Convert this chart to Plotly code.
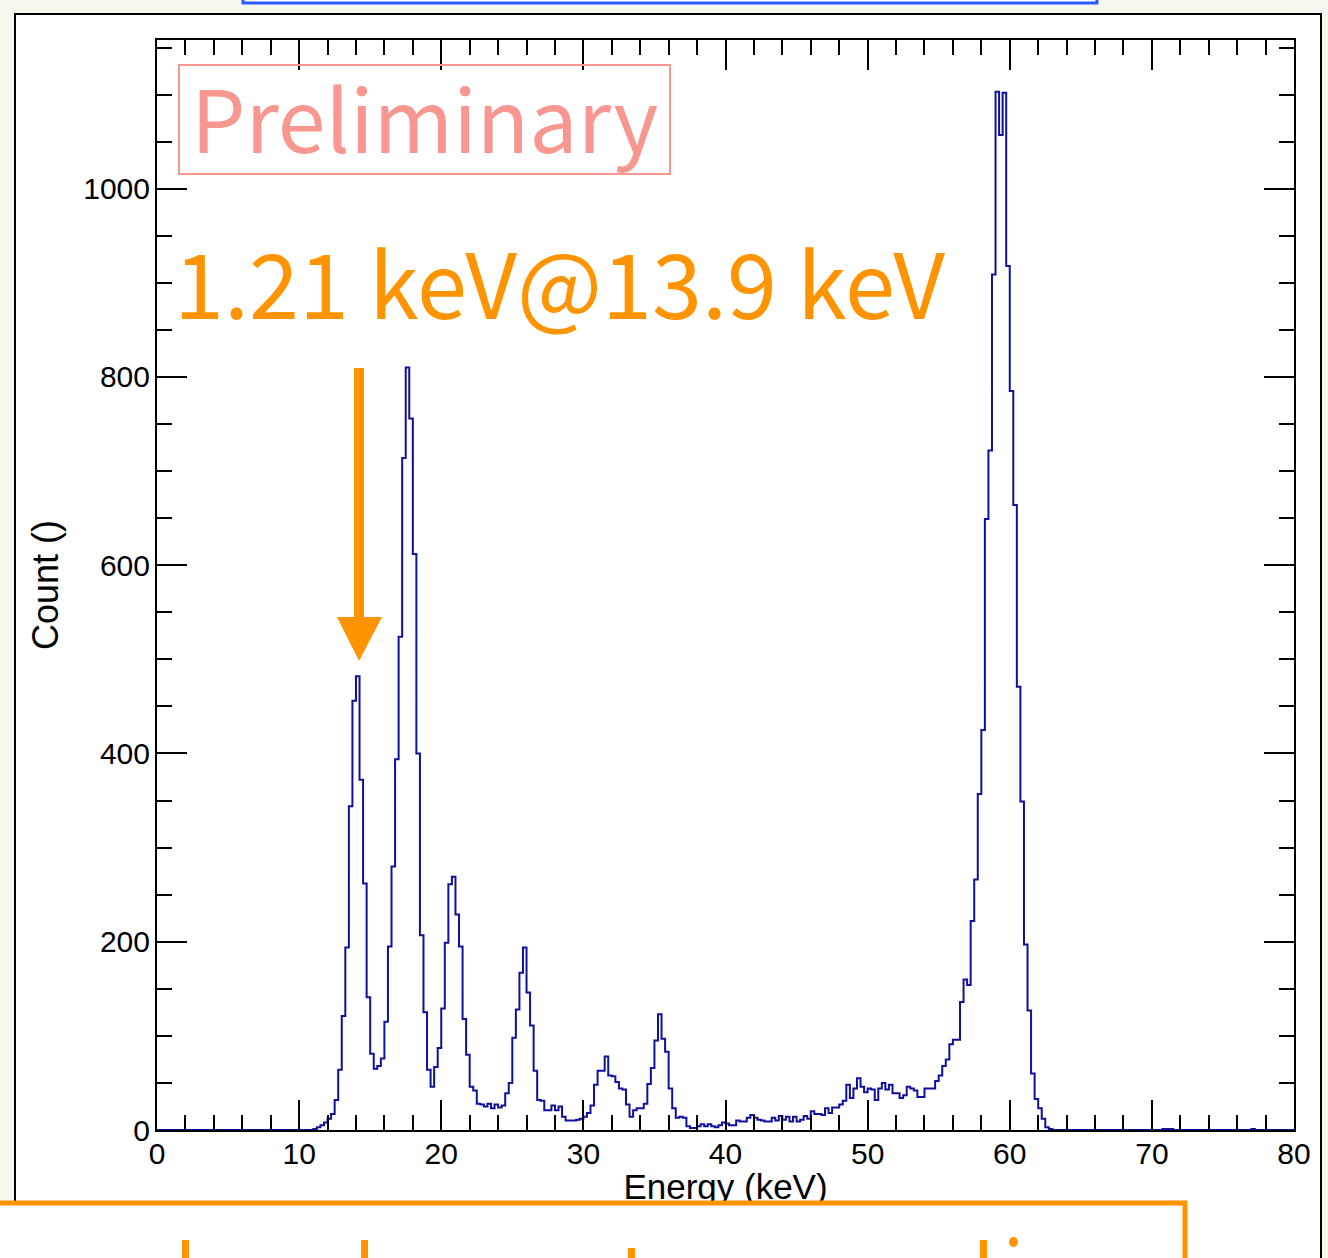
import numpy as np
import plotly.graph_objects as go

# ---------------- data ----------------
# histogram binning: 320 bins of 0.25 keV from 0 to 80 keV
n_bins = 320
e_min, e_max = 0.0, 80.0
# counts of consecutive bins starting at 11.0 keV
first_bin_keV = 11.0
counts_main = [
    1, 3, 5, 8, 12, 17, 32, 64,                 # 11.0 - 12.75
    121, 194, 344, 456, 482, 372, 262, 141,     # 13.0 - 14.75
    81, 65, 68, 76, 115, 195, 280, 394,         # 15.0 - 16.75
    524, 714, 810, 756, 612, 400, 207, 125,     # 17.0 - 18.75
    64, 46, 67, 87, 129, 199, 261, 269,         # 19.0 - 20.75
    229, 195, 118, 80, 46, 42, 28, 27,          # 21.0 - 22.75
    25, 28, 23, 27, 24, 26, 39, 50,             # 23.0 - 24.75
    98, 128, 167, 194, 146, 111, 63, 32,        # 25.0 - 26.75
    31, 21, 21, 26, 21, 25, 14, 10,             # 27.0 - 28.75
    10, 10, 11, 12, 14, 18, 26, 48,             # 29.0 - 30.75
    63, 63, 78, 58, 57, 51, 44, 43,             # 31.0 - 32.75
    27, 14, 21, 23, 23, 28, 49, 66,             # 33.0 - 34.75
    95, 123, 97, 83, 44, 23, 13, 14,            # 35.0 - 36.75
    13, 4, 2, 2, 4, 6, 4, 6,                    # 37.0 - 38.75
    4, 3, 5, 8, 7, 5, 5, 10,                    # 39.0 - 40.75
    9, 9, 13, 16, 13, 11, 10, 9,                # 41.0 - 42.75
    9, 13, 10, 15, 11, 14, 9, 14,               # 43.0 - 44.75
    9, 11, 15, 12, 20, 17, 17, 16,              # 45.0 - 46.75
    23, 18, 24, 24, 27, 31, 48, 34,             # 47.0 - 48.75
    44, 55, 46, 40, 44, 43, 32, 44,             # 49.0 - 50.75
    50, 43, 48, 39, 39, 34, 37, 46,             # 51.0 - 52.75
    44, 42, 35, 35, 44, 44, 44, 52,             # 53.0 - 54.75
    58, 68, 75, 91, 96, 96, 136, 160,           # 55.0 - 56.75
    154, 222, 266, 357, 425, 649, 722, 909,     # 57.0 - 58.75
    1103, 1057, 1102, 918, 785, 664, 471, 349,  # 59.0 - 60.75
    197, 127, 60, 33, 23, 12, 3, 1,             # 61.0 - 62.75
]
# isolated single counts at high energy
extra_bins_keV = [70.75, 71.0, 71.25, 77.0]
extra_counts = [1, 1, 1, 1]

x_ticks = [0, 10, 20, 30, 40, 50, 60, 70, 80]
y_ticks = [0, 200, 400, 600, 800, 1000]
x_title = "Energy (keV)"
y_title = "Count ()"
label_prelim = "Preliminary"
label_res = "1.21 keV@13.9 keV"

# ---------------- build histogram ----------------
edges = np.linspace(e_min, e_max, n_bins + 1)
bw = (e_max - e_min) / n_bins
counts = np.zeros(n_bins)
i0 = int(round((first_bin_keV - e_min) / bw))
counts[i0:i0 + len(counts_main)] = counts_main
for e, c in zip(extra_bins_keV, extra_counts):
    counts[int(round((e - e_min) / bw))] = c
xs = list(edges)
ys = list(counts) + [counts[-1]]

# ---------------- layout geometry (pixels) ----------------
W, H = 1328, 1258
PL, PR, PT, PB = 157, 1294, 40, 1130


def fx(px):
    return px / W


def fy(py):
    return (H - py) / H


ORANGE = "#FF9400"
SALMON = "#F7978F"
BLUE_LINE = "#10109E"
CREAM = "#F8F7EE"
FONT = "Liberation Sans, Arial, sans-serif"
JFONT = "Noto Sans CJK JP, Noto Sans, sans-serif"

fig = go.Figure()
fig.add_trace(go.Scatter(
    x=xs, y=ys, mode="lines", line=dict(shape="hv", color=BLUE_LINE, width=2),
    hoverinfo="skip", showlegend=False))

# x-axis title as a text trace on a full-page pixel overlay (so the orange box can cover it)
fig.add_trace(go.Scatter(
    x=[(PL + PR) / 2], y=[1190], xaxis="x2", yaxis="y2", mode="text",
    text=[x_title], textposition="middle center", cliponaxis=False,
    textfont=dict(family=FONT, size=35, color="black"),
    hoverinfo="skip", showlegend=False))

axis_common = dict(
    showline=True, linecolor="black", linewidth=2, mirror="allticks",
    ticks="inside", ticklen=30, tickwidth=2, tickcolor="black",
    showgrid=False, zeroline=False, layer="above traces", automargin=False,
    tickfont=dict(family=FONT, size=30, color="black"),
)
fig.update_layout(
    width=W, height=H,
    margin=dict(l=0, r=0, t=0, b=0, pad=0, autoexpand=False),
    paper_bgcolor=CREAM, plot_bgcolor="rgba(0,0,0,0)",
    xaxis=dict(range=[e_min, e_max], tickvals=x_ticks, domain=[fx(PL), fx(PR)],
               anchor="y", ticklabelstandoff=-4,
               minor=dict(dtick=2, tick0=0, ticklen=15, tickwidth=2, tickcolor="black", ticks="inside"),
               **axis_common),
    yaxis=dict(range=[0, 1158], tickvals=y_ticks, domain=[fy(PB), fy(PT)],
               anchor="x", ticklabelstandoff=-1,
               minor=dict(dtick=50, tick0=0, ticklen=15, tickwidth=2, tickcolor="black", ticks="inside"),
               **axis_common),
    xaxis2=dict(range=[0, W], domain=[0, 1], anchor="y2", visible=False, automargin=False),
    yaxis2=dict(range=[H, 0], domain=[0, 1], anchor="x2", visible=False, automargin=False),
)

shapes = []
# slide frame (white panel with black border)
shapes.append(dict(type="rect", xref="paper", yref="paper", layer="below",
                   x0=fx(15), x1=fx(1321), y0=fy(14), y1=fy(1320),
                   fillcolor="white", line=dict(color="black", width=2)))
# top blue box (mostly off-page)
shapes.append(dict(type="rect", xref="paper", yref="paper", layer="above",
                   x0=fx(243), x1=fx(1097), y0=fy(-30), y1=fy(3),
                   fillcolor="white", line=dict(color="#2B5BFF", width=3)))
# Preliminary box
shapes.append(dict(type="rect", xref="paper", yref="paper", layer="above",
                   x0=fx(179), x1=fx(670), y0=fy(65), y1=fy(174),
                   fillcolor="rgba(0,0,0,0)", line=dict(color=SALMON, width=2)))
# orange arrow: shaft + head
shapes.append(dict(type="rect", xref="paper", yref="paper", layer="above",
                   x0=fx(354), x1=fx(364), y0=fy(368), y1=fy(622),
                   fillcolor=ORANGE, line=dict(width=0)))
shapes.append(dict(type="path", xref="paper", yref="paper", layer="above",
                   path=f"M {fx(337)},{fy(617)} L {fx(382)},{fy(617)} L {fx(359)},{fy(661)} Z",
                   fillcolor=ORANGE, line=dict(width=0)))
# bottom orange box (mostly off-page)
shapes.append(dict(type="rect", xref="paper", yref="paper", layer="above",
                   x0=fx(-30), x1=fx(1185), y0=fy(1203), y1=fy(1330),
                   fillcolor="white", line=dict(color=ORANGE, width=5)))
# tops of the cut-off orange text inside the bottom box
for x0, x1, y0 in [(182, 189, 1240), (361, 368, 1240), (628, 635, 1248), (980, 987, 1240)]:
    shapes.append(dict(type="rect", xref="paper", yref="paper", layer="above",
                       x0=fx(x0), x1=fx(x1), y0=fy(y0), y1=fy(1262),
                       fillcolor=ORANGE, line=dict(width=0)))
shapes.append(dict(type="circle", xref="paper", yref="paper", layer="above",
                   x0=fx(1009), x1=fx(1018), y0=fy(1237), y1=fy(1247),
                   fillcolor=ORANGE, line=dict(width=0)))
fig.update_layout(shapes=shapes)

annotations = [
    dict(text=y_title, xref="paper", yref="paper", x=fx(45), y=fy(585),
         textangle=-90, showarrow=False, xanchor="center", yanchor="middle",
         font=dict(family=FONT, size=36, color="black")),
    dict(text=label_prelim, xref="paper", yref="paper", x=fx(189), y=fy(116),
         showarrow=False, xanchor="left", yanchor="middle",
         font=dict(family=JFONT, size=86, color=SALMON)),
    dict(text=label_res, xref="paper", yref="paper", x=fx(172), y=fy(280),
         showarrow=False, xanchor="left", yanchor="middle",
         font=dict(family=JFONT, size=90, color=ORANGE)),
]
fig.update_layout(annotations=annotations)

fig.write_html("out.html")
